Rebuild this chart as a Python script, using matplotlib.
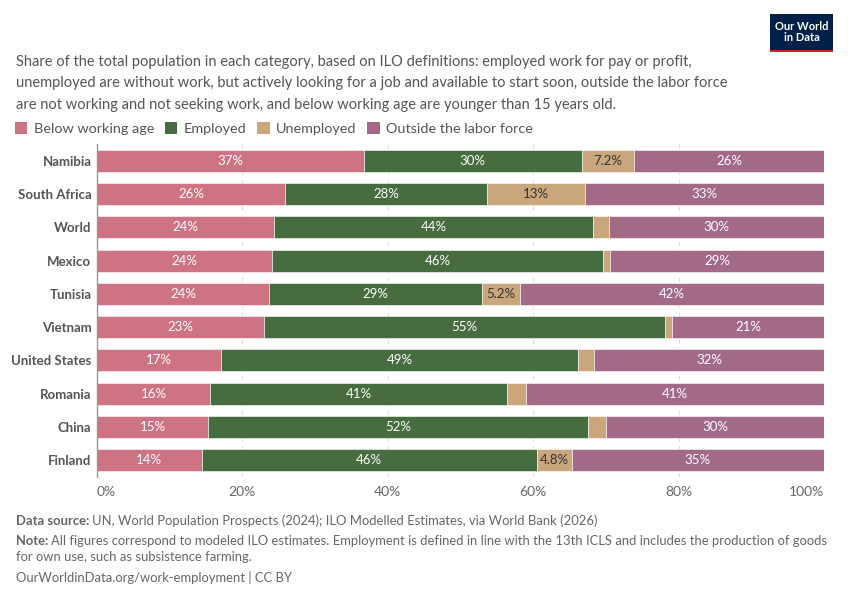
import numpy as np
import matplotlib
matplotlib.use("Agg")
import matplotlib.pyplot as plt
from matplotlib.patches import Rectangle, Patch

plt.rcParams['font.family'] = ['Lato', 'DejaVu Sans']

# =============================================================================
# DATA (% of total population)
# =============================================================================

countries = ["Namibia", "South Africa", "World", "Mexico", "Tunisia",
             "Vietnam", "United States", "Romania", "China", "Finland"]
below_age = [36.7, 25.9, 24.4, 24.1, 23.7, 23.0, 17.1, 15.6, 15.3, 14.4]
employed = [30.0, 27.8, 43.8, 45.5, 29.3, 55.1, 49.1, 40.8, 52.2, 46.1]
unemployed = [7.2, 13.4, 2.2, 1.0, 5.2, 1.0, 2.2, 2.6, 2.5, 4.8]
outside = [26.1, 32.9, 29.6, 29.4, 41.8, 20.9, 31.6, 41.0, 30.0, 34.7]

series_names = ["Below working age", "Employed", "Unemployed", "Outside the labor force"]
series_values = [below_age, employed, unemployed, outside]
series_colors = ["#CE7384", "#476C3F", "#C9A67C", "#A36A88"]
label_colors = ["white", "white", "#333333", "white"]

xticks = [0, 20, 40, 60, 80, 100]

subtitle = ("Share of the total population in each category, based on ILO definitions: employed work for pay or profit,\n"
            "unemployed are without work, but actively looking for a job and available to start soon, outside the labor force\n"
            "are not working and not seeking work, and below working age are younger than 15 years old.")

# =============================================================================
# FIGURE
# =============================================================================

W, H = 850, 600
fig = plt.figure(figsize=(W / 100, H / 100), dpi=100)
ax = fig.add_axes([97 / W, 1 - 476.6 / H, (824 - 97) / W, (476.6 - 144.4) / H])

y = np.arange(len(countries))
left = np.zeros(len(countries))
for name, vals, col, lcol in zip(series_names, series_values, series_colors, label_colors):
    vals = np.array(vals)
    ax.barh(y, vals, left=left, height=0.66, color=col, edgecolor="white", linewidth=0.4, zorder=2)
    for yi, l, v in zip(y, left, vals):
        if v >= 4.5:
            txt = f"{v:.0f}%" if v >= 10 else f"{v:.1f}%"
            ax.text(l + v / 2, yi, txt, ha="center", va="center", color=lcol, fontsize=9.5, zorder=3)
    left = left + vals

ax.set_xlim(0, 100)
ax.set_ylim(len(countries) - 0.5, -0.5)
ax.set_yticks(y)
ax.set_yticklabels(countries, fontsize=9.5, fontweight="bold", color="#555555")
ax.set_xticks(xticks)
ax.set_xticklabels([f"{t}%" for t in xticks], fontsize=10, color="#666666")
xl = ax.get_xticklabels()
xl[0].set_horizontalalignment("left")
xl[-1].set_horizontalalignment("right")
ax.tick_params(axis="both", length=0)
ax.tick_params(axis="y", pad=4)
ax.tick_params(axis="x", pad=7)
for s in ["top", "right", "bottom"]:
    ax.spines[s].set_visible(False)
ax.spines["left"].set_color("#999999")
ax.spines["left"].set_linewidth(1.0)
ax.spines["left"].set_zorder(4)
ax.xaxis.grid(True, linestyle=(0, (4, 4)), color="#dddddd", linewidth=0.8, zorder=0)
ax.set_axisbelow(True)

# subtitle
fig.text(16 / W, 1 - 55 / H, subtitle, ha="left", va="top", fontsize=10.5,
         color="#555555", linespacing=1.66)

# legend
handles = [Patch(facecolor=c, edgecolor="none") for c in series_colors]
leg = fig.legend(handles, series_names, loc="upper left", bbox_to_anchor=(15 / W, 1 - 122 / H),
                 ncol=4, frameon=False, fontsize=10.4, handlelength=0.85, handleheight=0.9,
                 handletextpad=0.45, columnspacing=0.75, borderaxespad=0, borderpad=0)
for t in leg.get_texts():
    t.set_color("#555555")

# logo
fig.patches.append(Rectangle((770 / W, 1 - 52 / H), 63 / W, 38 / H, transform=fig.transFigure,
                             facecolor="#002147", edgecolor="none"))
fig.patches.append(Rectangle((770 / W, 1 - 52 / H), 63 / W, 2.5 / H, transform=fig.transFigure,
                             facecolor="#CE261E", edgecolor="none"))
fig.text(801.5 / W, 1 - 32 / H, "Our World\nin Data", ha="center", va="center", color="white",
         fontsize=8, fontweight="bold", linespacing=1.0)

# footer
r = fig.canvas.get_renderer()
fsz = 9.4
gray = "#666666"


def two_part(x, ypix, bold, rest):
    t = fig.text(x / W, 1 - ypix / H, bold, ha="left", va="baseline", fontsize=fsz,
                 fontweight="bold", color=gray)
    bb = t.get_window_extent(renderer=r)
    fig.text(bb.x1 / W + 3 / W, 1 - ypix / H, rest, ha="left", va="baseline",
             fontsize=fsz, color=gray)


two_part(16, 525, "Data source:", "UN, World Population Prospects (2024); ILO Modelled Estimates, via World Bank (2026)")
two_part(16, 545, "Note:", "All figures correspond to modeled ILO estimates. Employment is defined in line with the 13th ICLS and includes the production of goods")
fig.text(16 / W, 1 - 561 / H, "for own use, such as subsistence farming.", ha="left", va="baseline",
         fontsize=fsz, color=gray)
fig.text(16 / W, 1 - 582 / H, "OurWorldinData.org/work-employment | CC BY", ha="left", va="baseline",
         fontsize=fsz, color=gray)

fig.savefig("out.png", dpi=100)
